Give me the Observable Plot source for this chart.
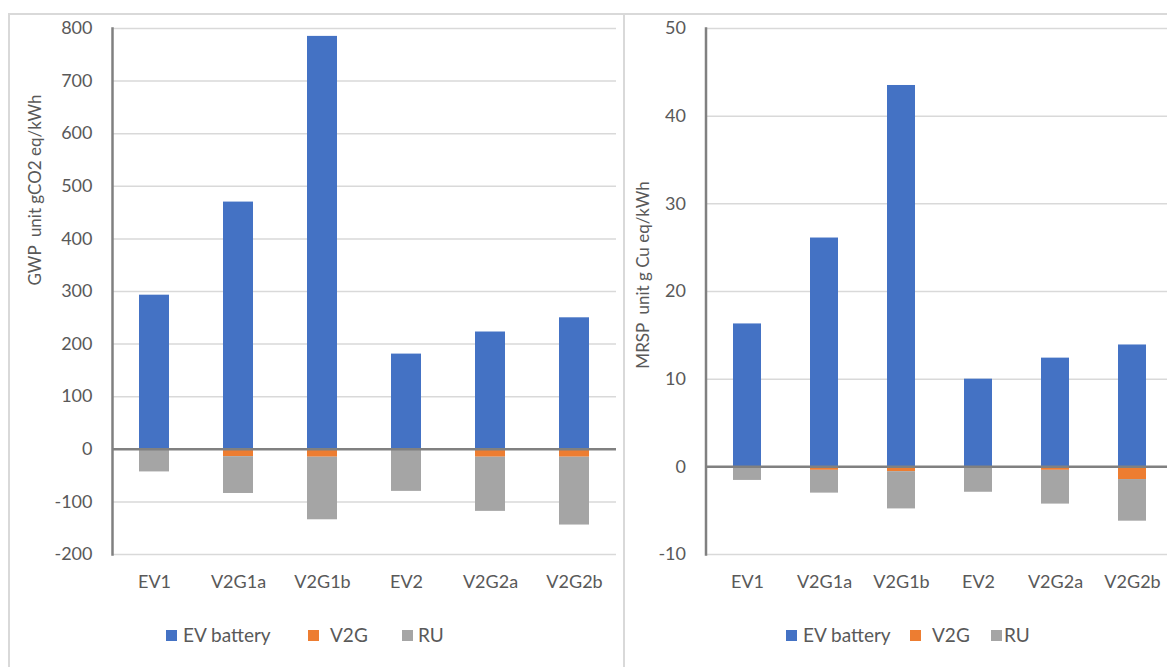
<!DOCTYPE html>
<html>
<head>
<meta charset="utf-8">
<script src="https://cdn.jsdelivr.net/npm/d3@7"></script>
<script src="https://cdn.jsdelivr.net/npm/@observablehq/plot@0.6"></script>
<style>
html,body{margin:0;padding:0;background:#fff;overflow:hidden;}
#wrap{position:relative;width:1167px;height:667px;overflow:hidden;font-family:Lato,sans-serif;color:#595959;}
.panel{position:absolute;border:2px solid #d9d9d9;box-sizing:border-box;}
.chart{position:absolute;top:0;}
.chart svg{max-width:none !important;}
.ytitle{position:absolute;font-size:17px;white-space:pre;transform:translate(-50%,-50%) rotate(-90deg);line-height:1;}
.leg{position:absolute;font-size:19px;line-height:19px;white-space:nowrap;}
.sw{position:absolute;width:11px;height:11px;}
</style>
</head>
<body>
<div id="wrap">
  <div class="panel" style="left:8px;top:13px;width:617px;height:700px;"></div>
  <div class="panel" style="left:623px;top:13px;width:600px;height:700px;"></div>
  <div id="c1" class="chart" style="left:0px;width:627px;"></div>
  <div id="c2" class="chart" style="left:624px;width:549px;"></div>
  <div class="ytitle" style="left:34px;top:190px;">GWP  unit gCO2 eq/kWh</div>
  <div class="ytitle" style="left:642px;top:275px;">MRSP  unit g Cu eq/kWh</div>
  <div id="legends"></div>
</div>
<script>
const categories = ["EV1", "V2G1a", "V2G1b", "EV2", "V2G2a", "V2G2b"];
const seriesNames = ["EV battery", "V2G", "RU"];
const seriesColors = ["#4472C4", "#ED7D31", "#A5A5A5"];

// GWP (g CO2 eq / kWh)
const gwpEV = [293, 470, 785, 181, 223, 250];
const gwpV2G = [0, -14, -15, 0, -15, -15];
const gwpRU = [-43, -70, -119, -80, -103, -129];
const gwpTicks = [-200, -100, 0, 100, 200, 300, 400, 500, 600, 700, 800];

// MRSP (g Cu eq / kWh)
const mrspEV = [16.3, 26.1, 43.5, 10.0, 12.4, 13.9];
const mrspV2G = [0, -0.4, -0.55, 0, -0.4, -1.45];
const mrspRU = [-1.55, -2.6, -4.25, -2.9, -3.85, -4.75];
const mrspTicks = [-10, 0, 10, 20, 30, 40, 50];

function buildRows(ev, v2g, ru) {
  const rows = [];
  categories.forEach((c, i) => {
    rows.push({cat: c, s: seriesNames[0], v: ev[i]});
    rows.push({cat: c, s: seriesNames[1], v: v2g[i]});
    rows.push({cat: c, s: seriesNames[2], v: ru[i]});
  });
  return rows;
}

function makeChart(rows, ticks, width, marginLeft, marginRight) {
  const yDomain = [ticks[0], ticks[ticks.length - 1]];
  return Plot.plot({
    width, height: 600,
    marginTop: 28, marginBottom: 46, marginLeft, marginRight,
    style: {fontFamily: "Lato, sans-serif", fontSize: "18px", color: "#595959", background: "transparent", overflow: "visible", maxWidth: "none"},
    x: {domain: categories, paddingInner: 0.64, paddingOuter: 0.32, align: 0.5, label: null},
    y: {domain: yDomain, label: null},
    color: {domain: seriesNames, range: seriesColors},
    marks: [
      Plot.gridY(ticks, {stroke: "#d9d9d9", strokeOpacity: 1, strokeWidth: 1.5}),
      Plot.barY(rows, Plot.stackY({x: "cat", y: "v", fill: "s"})),
      Plot.ruleY([0], {stroke: "#808080", strokeWidth: 2.5}),
      Plot.frame({anchor: "left", stroke: "#808080", strokeWidth: 2.5}),
      Plot.axisY(ticks, {tickSize: 0, tickPadding: 20, fontSize: 18, label: null, tickFormat: d => String(d)}),
      Plot.axisX({tickSize: 0, tickPadding: 21, fontSize: 18, label: null})
    ]
  });
}

document.getElementById("c1").append(
  makeChart(buildRows(gwpEV, gwpV2G, gwpRU), gwpTicks, 627, 112, 11)
);
document.getElementById("c2").append(
  makeChart(buildRows(mrspEV, mrspV2G, mrspRU), mrspTicks, 548.5, 81.5, 0)
);

// legends
const legendLayouts = [
  {sw: [166, 308, 402], tx: [183, 330, 418]},
  {sw: [786, 910, 991], tx: [803, 932, 1004]}
];
const legends = document.getElementById("legends");
legendLayouts.forEach(L => {
  seriesNames.forEach((name, i) => {
    const sw = document.createElement("div");
    sw.className = "sw";
    sw.style.left = L.sw[i] + "px";
    sw.style.top = "630px";
    sw.style.background = seriesColors[i];
    legends.append(sw);
    const t = document.createElement("div");
    t.className = "leg";
    t.style.left = L.tx[i] + "px";
    t.style.top = "625px";
    t.textContent = name;
    legends.append(t);
  });
});
</script>
</body>
</html>
